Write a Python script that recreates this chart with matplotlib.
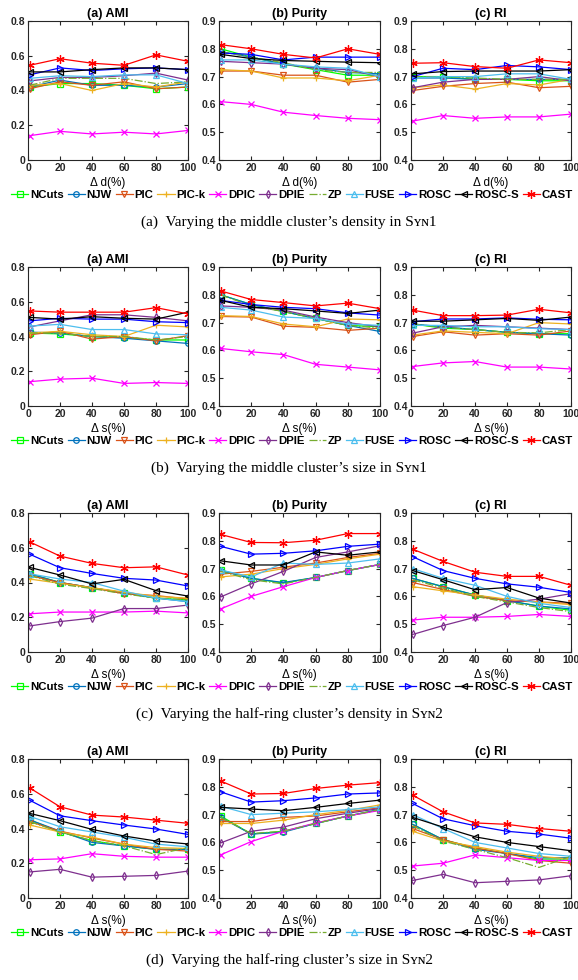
import matplotlib
matplotlib.use("Agg")
import matplotlib.pyplot as plt

x = [1, 20, 40, 60, 80, 100]
methods = ['NCuts', 'NJW', 'PIC', 'PIC-k', 'DPIC', 'DPIE', 'ZP', 'FUSE', 'ROSC', 'ROSC-S', 'CAST']

# rows follow the order of `methods`
# --- (a) middle cluster density, Syn1
ami_1 = [[0.42, 0.44, 0.44, 0.43, 0.41, 0.42],
         [0.42, 0.46, 0.43, 0.43, 0.42, 0.44],
         [0.41, 0.45, 0.43, 0.45, 0.41, 0.42],
         [0.43, 0.44, 0.40, 0.44, 0.42, 0.45],
         [0.14, 0.165, 0.15, 0.16, 0.15, 0.17],
         [0.455, 0.475, 0.475, 0.485, 0.50, 0.46],
         [0.43, 0.47, 0.47, 0.47, 0.44, 0.45],
         [0.47, 0.485, 0.48, 0.49, 0.49, 0.44],
         [0.49, 0.53, 0.515, 0.525, 0.53, 0.52],
         [0.507, 0.507, 0.52, 0.53, 0.53, 0.52],
         [0.545, 0.583, 0.557, 0.545, 0.605, 0.568]]
pur_1 = [[0.80, 0.77, 0.745, 0.725, 0.705, 0.705],
         [0.79, 0.77, 0.745, 0.73, 0.715, 0.71],
         [0.72, 0.72, 0.705, 0.705, 0.68, 0.69],
         [0.725, 0.72, 0.695, 0.695, 0.685, 0.705],
         [0.61, 0.60, 0.572, 0.56, 0.55, 0.545],
         [0.755, 0.75, 0.745, 0.73, 0.725, 0.70],
         [0.79, 0.77, 0.75, 0.725, 0.715, 0.715],
         [0.76, 0.76, 0.745, 0.735, 0.73, 0.70],
         [0.785, 0.78, 0.76, 0.77, 0.77, 0.77],
         [0.78, 0.765, 0.758, 0.755, 0.752, 0.75],
         [0.815, 0.80, 0.78, 0.767, 0.80, 0.78]]
ri_1 = [[0.70, 0.70, 0.69, 0.69, 0.685, 0.685],
        [0.695, 0.695, 0.69, 0.69, 0.69, 0.69],
        [0.65, 0.665, 0.675, 0.68, 0.66, 0.665],
        [0.66, 0.67, 0.655, 0.675, 0.67, 0.69],
        [0.54, 0.56, 0.55, 0.555, 0.555, 0.565],
        [0.66, 0.68, 0.69, 0.69, 0.70, 0.685],
        [0.70, 0.70, 0.695, 0.69, 0.69, 0.69],
        [0.695, 0.70, 0.70, 0.71, 0.71, 0.69],
        [0.70, 0.73, 0.725, 0.74, 0.735, 0.725],
        [0.71, 0.718, 0.72, 0.72, 0.72, 0.725],
        [0.748, 0.75, 0.736, 0.73, 0.76, 0.75]]

# --- (b) middle cluster size, Syn1
ami_2 = [[0.42, 0.415, 0.40, 0.395, 0.38, 0.38],
         [0.425, 0.42, 0.40, 0.39, 0.375, 0.36],
         [0.41, 0.43, 0.385, 0.40, 0.375, 0.405],
         [0.42, 0.43, 0.41, 0.40, 0.465, 0.455],
         [0.14, 0.155, 0.16, 0.13, 0.135, 0.13],
         [0.455, 0.49, 0.525, 0.525, 0.51, 0.49],
         [0.42, 0.42, 0.40, 0.40, 0.38, 0.40],
         [0.46, 0.47, 0.44, 0.44, 0.415, 0.41],
         [0.49, 0.505, 0.50, 0.50, 0.485, 0.48],
         [0.51, 0.50, 0.514, 0.505, 0.50, 0.54],
         [0.547, 0.54, 0.54, 0.54, 0.566, 0.53]]
pur_2 = [[0.80, 0.765, 0.74, 0.715, 0.69, 0.685],
         [0.80, 0.765, 0.74, 0.715, 0.69, 0.668],
         [0.722, 0.72, 0.687, 0.683, 0.672, 0.68],
         [0.725, 0.722, 0.695, 0.685, 0.713, 0.71],
         [0.607, 0.595, 0.585, 0.55, 0.54, 0.53],
         [0.76, 0.755, 0.745, 0.72, 0.70, 0.685],
         [0.80, 0.76, 0.74, 0.715, 0.69, 0.68],
         [0.755, 0.745, 0.72, 0.715, 0.695, 0.69],
         [0.78, 0.765, 0.755, 0.75, 0.735, 0.727],
         [0.78, 0.755, 0.75, 0.742, 0.733, 0.745],
         [0.814, 0.783, 0.772, 0.76, 0.77, 0.75]]
ri_2 = [[0.695, 0.68, 0.675, 0.665, 0.66, 0.66],
        [0.695, 0.685, 0.675, 0.665, 0.66, 0.655],
        [0.65, 0.667, 0.655, 0.66, 0.655, 0.67],
        [0.655, 0.67, 0.665, 0.66, 0.70, 0.695],
        [0.542, 0.555, 0.56, 0.54, 0.54, 0.533],
        [0.662, 0.685, 0.69, 0.685, 0.68, 0.675],
        [0.695, 0.683, 0.675, 0.665, 0.663, 0.675],
        [0.69, 0.69, 0.685, 0.685, 0.678, 0.675],
        [0.703, 0.713, 0.713, 0.717, 0.712, 0.71],
        [0.705, 0.705, 0.71, 0.715, 0.708, 0.72],
        [0.745, 0.725, 0.725, 0.727, 0.748, 0.735]]

# --- (c) half-ring cluster density, Syn2
ami_3 = [[0.45, 0.40, 0.37, 0.34, 0.31, 0.30],
         [0.45, 0.40, 0.37, 0.34, 0.31, 0.29],
         [0.44, 0.40, 0.37, 0.335, 0.325, 0.305],
         [0.42, 0.395, 0.37, 0.345, 0.32, 0.31],
         [0.22, 0.23, 0.23, 0.23, 0.235, 0.225],
         [0.15, 0.175, 0.195, 0.25, 0.25, 0.27],
         [0.44, 0.39, 0.365, 0.335, 0.31, 0.30],
         [0.45, 0.42, 0.40, 0.35, 0.31, 0.29],
         [0.563, 0.485, 0.452, 0.424, 0.414, 0.38],
         [0.487, 0.443, 0.392, 0.418, 0.353, 0.322],
         [0.634, 0.552, 0.51, 0.485, 0.49, 0.443]]
pur_3 = [[0.695, 0.665, 0.648, 0.668, 0.693, 0.715],
         [0.692, 0.665, 0.65, 0.668, 0.693, 0.715],
         [0.68, 0.69, 0.705, 0.72, 0.74, 0.755],
         [0.67, 0.68, 0.70, 0.715, 0.735, 0.752],
         [0.555, 0.60, 0.635, 0.668, 0.693, 0.715],
         [0.598, 0.645, 0.69, 0.74, 0.76, 0.782],
         [0.69, 0.66, 0.645, 0.668, 0.693, 0.715],
         [0.695, 0.67, 0.72, 0.715, 0.72, 0.735],
         [0.78, 0.752, 0.755, 0.764, 0.78, 0.788],
         [0.728, 0.713, 0.713, 0.76, 0.748, 0.76],
         [0.823, 0.794, 0.793, 0.802, 0.826, 0.826]]
ri_3 = [[0.665, 0.635, 0.605, 0.585, 0.565, 0.55],
        [0.665, 0.635, 0.605, 0.585, 0.565, 0.555],
        [0.65, 0.625, 0.60, 0.585, 0.58, 0.575],
        [0.635, 0.62, 0.605, 0.59, 0.58, 0.57],
        [0.515, 0.525, 0.525, 0.528, 0.535, 0.528],
        [0.463, 0.495, 0.525, 0.578, 0.59, 0.61],
        [0.66, 0.63, 0.60, 0.58, 0.56, 0.545],
        [0.70, 0.665, 0.64, 0.60, 0.575, 0.56],
        [0.743, 0.693, 0.665, 0.645, 0.633, 0.614],
        [0.693, 0.66, 0.624, 0.632, 0.594, 0.576],
        [0.77, 0.726, 0.687, 0.672, 0.672, 0.64]]

# --- (d) half-ring cluster size, Syn2
ami_4 = [[0.45, 0.38, 0.33, 0.30, 0.28, 0.28],
         [0.45, 0.385, 0.32, 0.30, 0.28, 0.28],
         [0.44, 0.385, 0.345, 0.31, 0.28, 0.27],
         [0.42, 0.38, 0.35, 0.31, 0.29, 0.285],
         [0.22, 0.225, 0.255, 0.24, 0.235, 0.235],
         [0.15, 0.165, 0.12, 0.125, 0.13, 0.155],
         [0.44, 0.38, 0.33, 0.30, 0.25, 0.29],
         [0.47, 0.41, 0.38, 0.35, 0.31, 0.295],
         [0.563, 0.473, 0.445, 0.42, 0.397, 0.366],
         [0.487, 0.445, 0.395, 0.357, 0.328, 0.311],
         [0.634, 0.525, 0.477, 0.466, 0.448, 0.43]]
pur_4 = [[0.695, 0.63, 0.64, 0.668, 0.695, 0.718],
         [0.69, 0.63, 0.637, 0.668, 0.695, 0.718],
         [0.675, 0.675, 0.69, 0.695, 0.71, 0.725],
         [0.668, 0.668, 0.68, 0.70, 0.715, 0.735],
         [0.555, 0.603, 0.64, 0.67, 0.695, 0.715],
         [0.598, 0.64, 0.655, 0.685, 0.705, 0.722],
         [0.69, 0.632, 0.64, 0.668, 0.695, 0.718],
         [0.73, 0.70, 0.705, 0.71, 0.718, 0.728],
         [0.782, 0.745, 0.75, 0.76, 0.774, 0.778],
         [0.726, 0.72, 0.714, 0.726, 0.74, 0.752],
         [0.821, 0.774, 0.776, 0.794, 0.806, 0.815]]
ri_4 = [[0.665, 0.61, 0.58, 0.56, 0.54, 0.54],
        [0.665, 0.61, 0.575, 0.56, 0.545, 0.545],
        [0.65, 0.61, 0.58, 0.56, 0.535, 0.525],
        [0.64, 0.605, 0.585, 0.565, 0.55, 0.54],
        [0.515, 0.525, 0.555, 0.545, 0.535, 0.535],
        [0.463, 0.485, 0.455, 0.46, 0.465, 0.48],
        [0.66, 0.605, 0.575, 0.545, 0.51, 0.55],
        [0.70, 0.65, 0.60, 0.58, 0.56, 0.55],
        [0.74, 0.685, 0.66, 0.64, 0.63, 0.615],
        [0.69, 0.655, 0.62, 0.60, 0.585, 0.57],
        [0.77, 0.71, 0.67, 0.665, 0.65, 0.64]]

xlabels = ['\u0394 d(%)', '\u0394 s(%)', '\u0394 s(%)', '\u0394 s(%)']
captions = ['(a)  Varying the middle cluster\u2019s density in S\u028f\u02741',
            '(b)  Varying the middle cluster\u2019s size in S\u028f\u02741',
            '(c)  Varying the half-ring cluster\u2019s density in S\u028f\u02742',
            '(d)  Varying the half-ring cluster\u2019s size in S\u028f\u02742']
titles = ['(a) AMI', '(b) Purity', '(c) RI']

colors = ['#00ff00', '#0072bd', '#d95319', '#edb120', '#ff00ff', '#7e2f8e',
          '#77ac30', '#4dbeee', '#0000ff', '#000000', '#ff0000']
markers = ['s', 'o', 'v', '+', 'x', 'd', None, '^', '>', '<', (6, 2, 0)]
msizes = [4, 4, 4, 5, 4.5, 4, 4, 4, 4.5, 4.5, 6]
styles = ['-', '-', '-', '-', '-', '-', '-.', '-', '-', '-', '-']

plt.rcParams['font.family'] = ['Liberation Sans', 'DejaVu Sans']

W, H = 578, 980
fig = plt.figure(figsize=(W / 100, H / 100), dpi=100)

panels = [(ami_1, pur_1, ri_1), (ami_2, pur_2, ri_2),
          (ami_3, pur_3, ri_3), (ami_4, pur_4, ri_4)]
lefts = [28, 219, 411]
widths = [160, 161, 160]
row_step = 246

for r, data in enumerate(panels):
    top = 21 + r * row_step
    for c in range(3):
        ax = fig.add_axes([lefts[c] / W, 1 - (top + 139) / H, widths[c] / W, 139 / H])
        vals = data[c]
        for i, m in enumerate(methods):
            ax.plot(x, vals[i], color=colors[i], marker=markers[i], linestyle=styles[i],
                    markerfacecolor='none', markersize=msizes[i], linewidth=0.9,
                    markeredgewidth=0.9, label=m)
        ax.set_xlim(0, 100)
        ax.set_xticks([0, 20, 40, 60, 80, 100])
        if c == 0:
            ax.set_ylim(0, 0.8)
            ax.set_yticks([0, 0.2, 0.4, 0.6, 0.8])
            ax.set_yticklabels(['0', '0.2', '0.4', '0.6', '0.8'])
        else:
            ax.set_ylim(0.4, 0.9)
            ax.set_yticks([0.4, 0.5, 0.6, 0.7, 0.8, 0.9])
        ax.tick_params(direction='in', top=True, right=True, length=3,
                       labelsize=7.5, width=0.8, colors='#262626', pad=2)
        for lab in ax.get_xticklabels() + ax.get_yticklabels():
            lab.set_fontweight('bold')
        for sp in ax.spines.values():
            sp.set_color('#262626')
            sp.set_linewidth(0.8)
        ax.set_title(titles[c], fontsize=9, fontweight='bold', pad=3)
        ax.set_xlabel(xlabels[r], fontsize=8.5, labelpad=3)
        if c == 0:
            handles, labels = ax.get_legend_handles_labels()

    fig.legend(handles, labels, loc='center', ncol=11,
               bbox_to_anchor=(0.505, 1 - (195 + r * row_step) / H),
               frameon=False, handlelength=1.5, handletextpad=0.15,
               columnspacing=0.35, borderpad=0,
               prop={'size': 8.2, 'weight': 'bold'})
    fig.text(0.5, 1 - (222 + r * row_step) / H, captions[r], ha='center', va='center',
             fontsize=11, family=['Liberation Serif', 'DejaVu Serif'])

fig.savefig('out.png', dpi=100)
